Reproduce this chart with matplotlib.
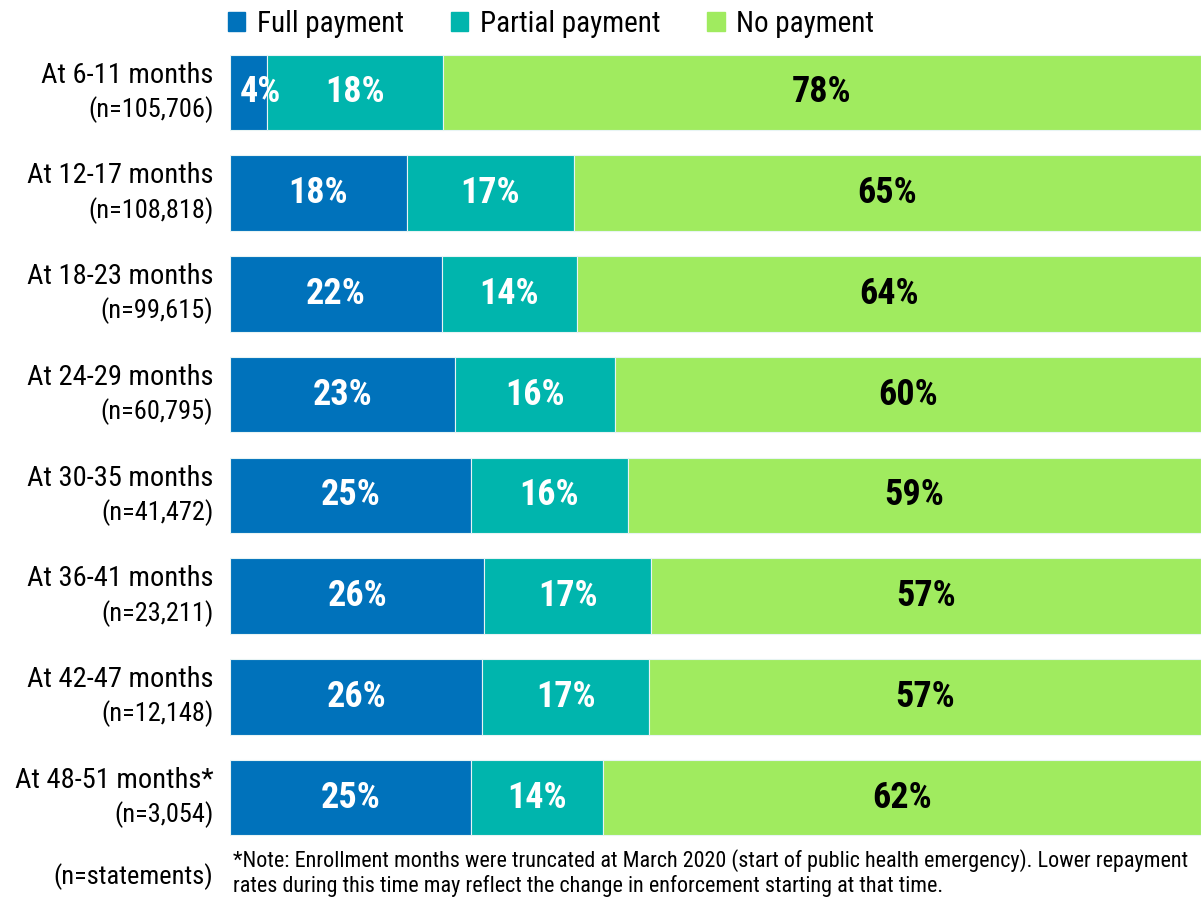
import matplotlib
matplotlib.use('Agg')
import matplotlib.pyplot as plt
from matplotlib import font_manager
from matplotlib.patches import Patch

# pick a narrow font if one is installed
names = set(f.name for f in font_manager.fontManager.ttflist)
font = 'Roboto'
for cand in ['Roboto Condensed', 'Liberation Sans Narrow', 'Open Sans Condensed', 'DejaVu Sans Condensed']:
    if cand in names:
        font = cand
        break
plt.rcParams['font.family'] = [font, 'DejaVu Sans']

categories = ['At 6-11 months', 'At 12-17 months', 'At 18-23 months', 'At 24-29 months',
              'At 30-35 months', 'At 36-41 months', 'At 42-47 months', 'At 48-51 months*']
counts = ['(n=105,706)', '(n=108,818)', '(n=99,615)', '(n=60,795)',
          '(n=41,472)', '(n=23,211)', '(n=12,148)', '(n=3,054)']
full = [3.8, 18.2, 21.8, 23.2, 24.8, 26.2, 26.0, 24.8]
partial = [18.1, 17.2, 13.9, 16.4, 16.2, 17.2, 17.2, 13.6]
nopay = [78.1, 64.6, 64.3, 60.4, 59.0, 56.6, 56.8, 61.6]
series = ['Full payment', 'Partial payment', 'No payment']
colors = ['#0072BB', '#00B5AD', '#A0EB5F']
note = ('*Note: Enrollment months were truncated at March 2020 (start of public health emergency). Lower repayment\n'
        'rates during this time may reflect the change in enforcement starting at that time.')

fig = plt.figure(figsize=(12.01, 9), dpi=100)
ax = fig.add_axes([230 / 1201, 1 - 848 / 900, 971 / 1201, (848 - 42) / 900])

ypos = list(range(len(categories)))
left = [0] * len(categories)
for vals, col, name in zip([full, partial, nopay], colors, series):
    bars = ax.barh(ypos, vals, left=left, height=0.75, color=col, edgecolor='#e8f4f4',
                   linewidth=0.8, label=name)
    txtcol = 'black' if name == 'No payment' else 'white'
    for b, v in zip(bars, vals):
        x = b.get_x() + b.get_width() / 2
        if b.get_width() < 6:
            x = b.get_x() + 1.0
            ha = 'left'
        else:
            ha = 'center'
        ax.text(x, b.get_y() + b.get_height() / 2, f'{round(v)}%', ha=ha, va='center',
                color=txtcol, fontsize=26, fontweight='bold')
    left = [l + v for l, v in zip(left, vals)]

ax.set_xlim(0, 100)
ax.set_ylim(len(categories) - 0.5 + 0.0, -0.5)
ax.set_xticks([])
ax.set_yticks([])
for s in ax.spines.values():
    s.set_visible(False)

# two-line row labels
for y, cat, n in zip(ypos, categories, counts):
    ax.text(-1.7, y - 0.17, cat, ha='right', va='center', fontsize=20.5)
    ax.text(-1.7, y + 0.17, n, ha='right', va='center', fontsize=19)

fig.text(213 / 1201, 1 - 877 / 900, '(n=statements)', ha='right', va='center', fontsize=19)
fig.text(233 / 1201, 1 - 873 / 900, note, ha='left', va='center', fontsize=15.9, linespacing=1.2)

handles = [Patch(color=c, label=s) for c, s in zip(colors, series)]
fig.legend(handles=handles, loc='center', bbox_to_anchor=(551 / 1201, 1 - 24 / 900), ncol=3,
           frameon=False, fontsize=21, handlelength=0.6, handleheight=0.6, handletextpad=0.4,
           columnspacing=1.6)

fig.savefig('out.png', dpi=100)
